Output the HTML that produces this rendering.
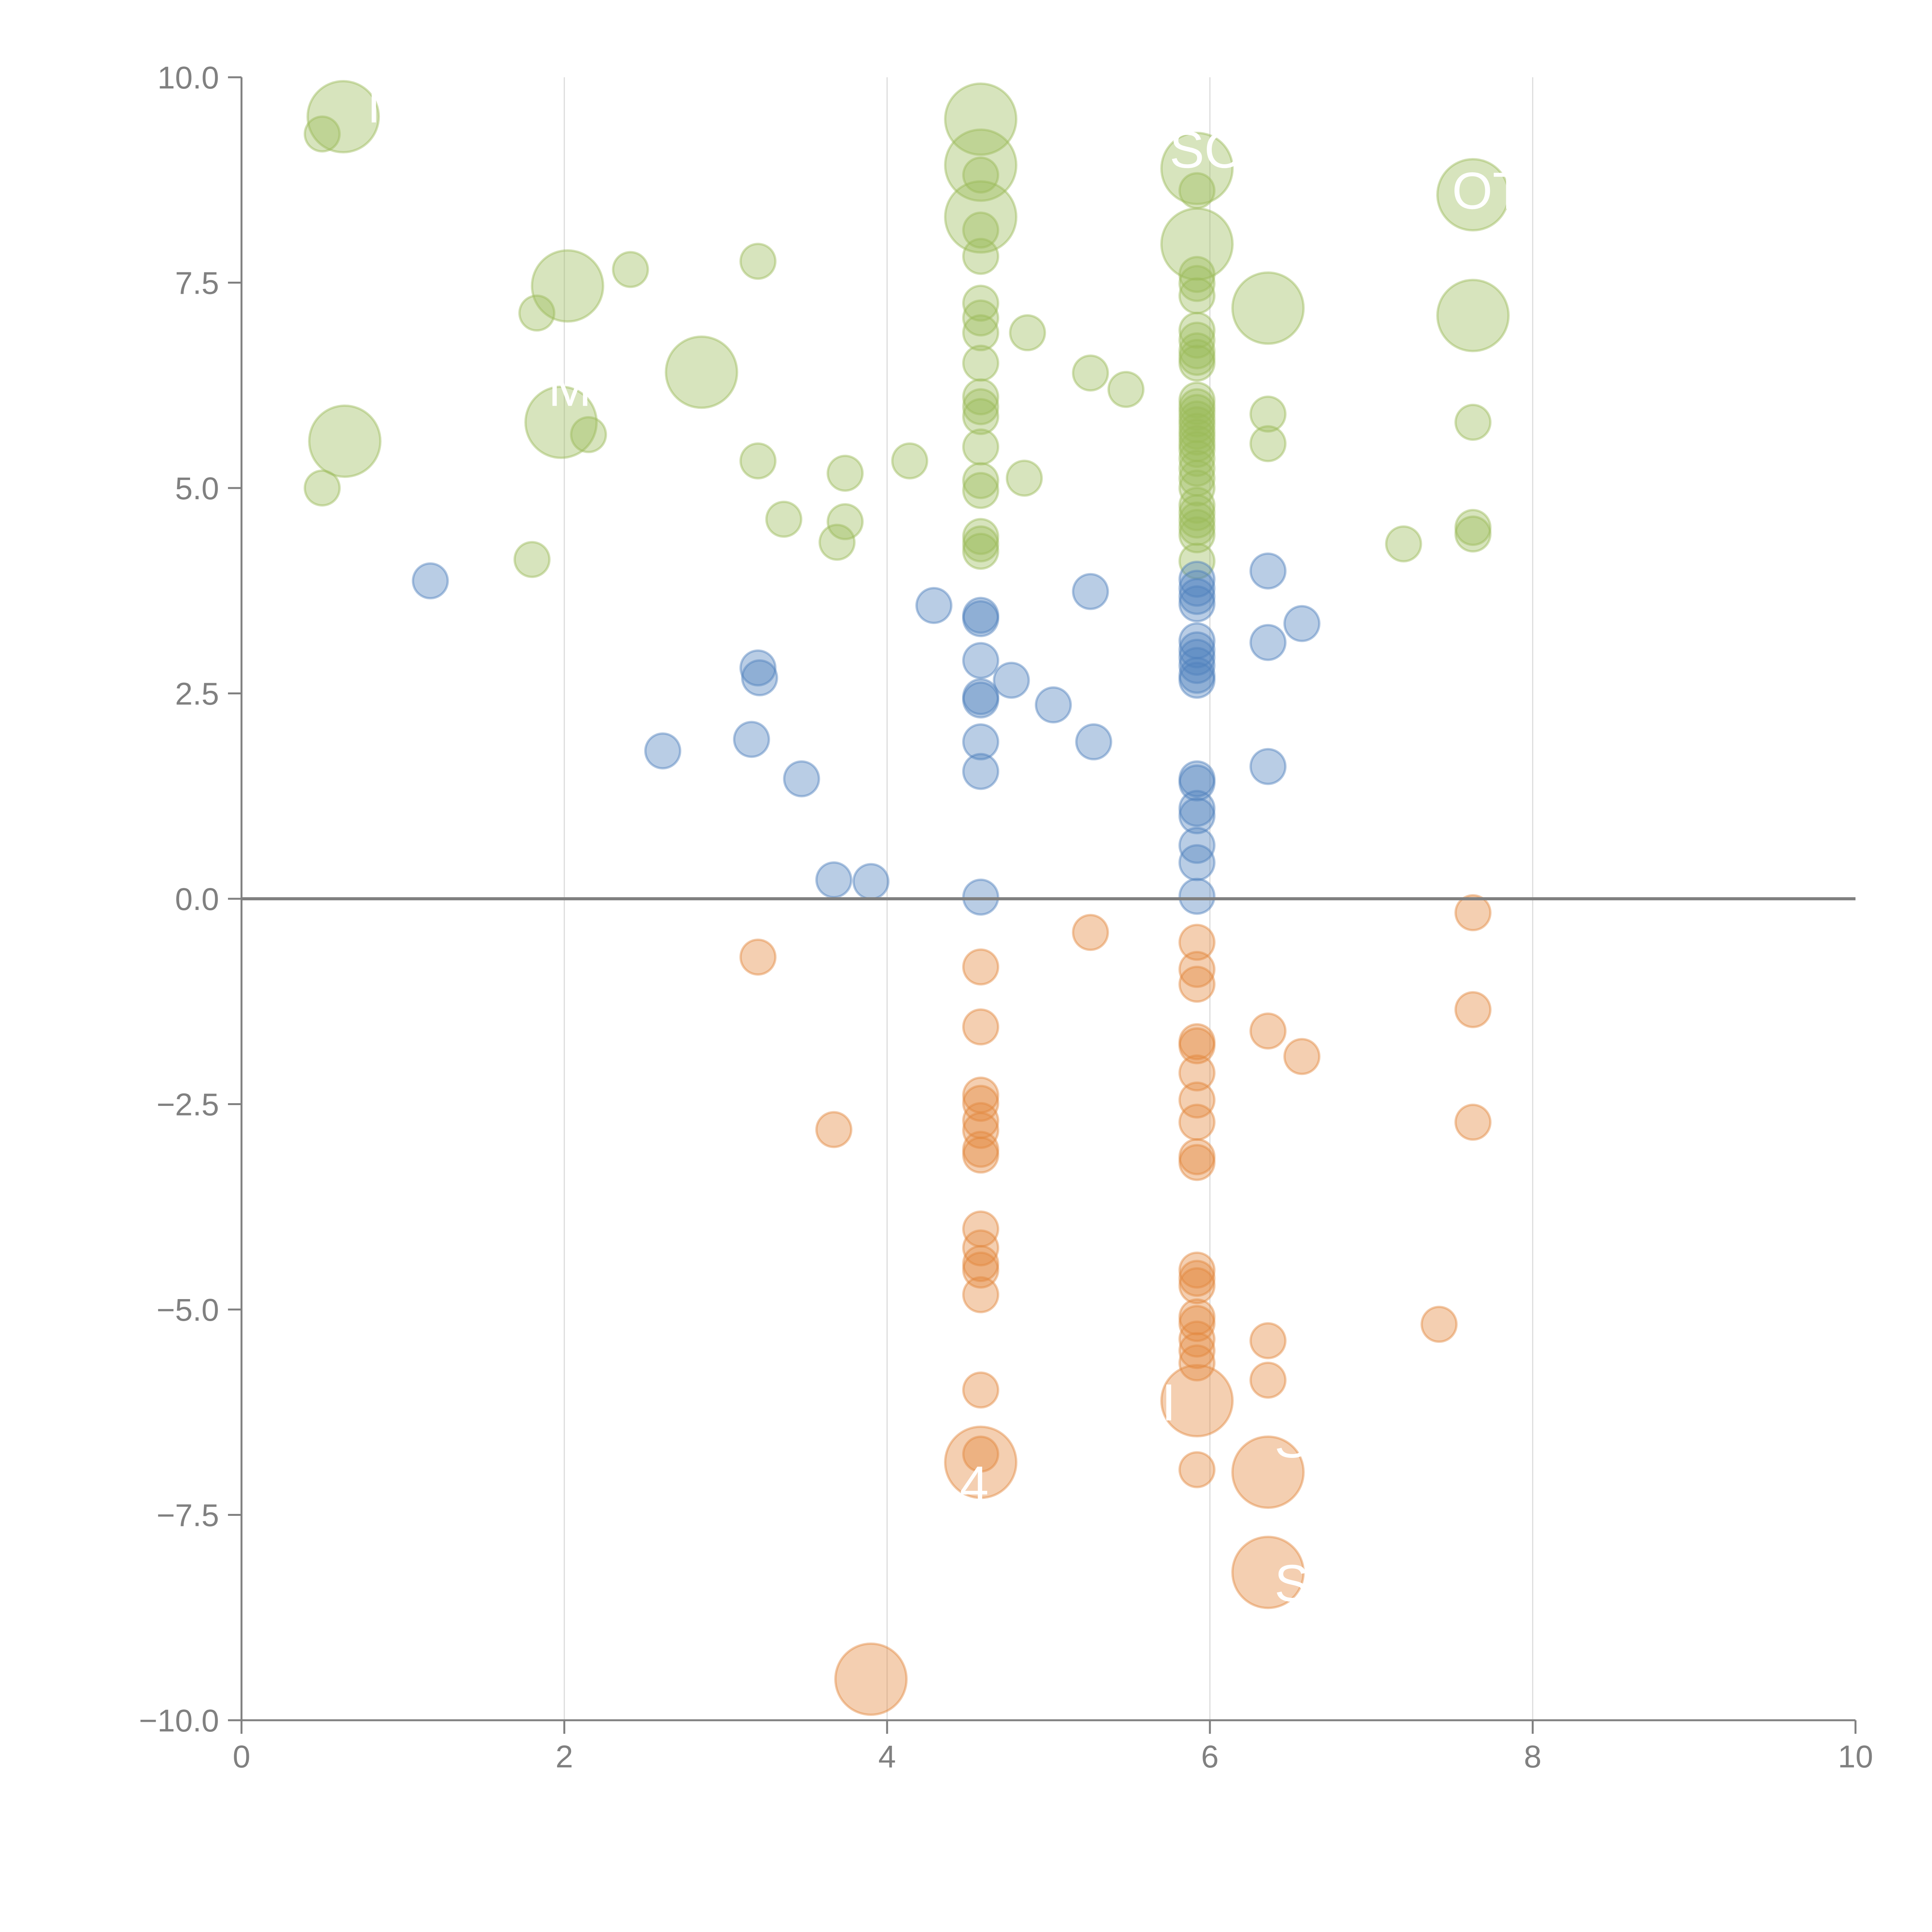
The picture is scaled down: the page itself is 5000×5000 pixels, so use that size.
<!DOCTYPE html>
<html><head><meta charset="utf-8"><style>html,body{margin:0;padding:0;background:#fff}svg{display:block}</style></head>
<body>
<svg id="chart" width="5000" height="5000" viewBox="0 0 5000 5000" xmlns="http://www.w3.org/2000/svg" font-family="Liberation Sans, sans-serif">
<g id="grid"></g>
<g id="marks"></g>
<g id="axes"></g>
</svg>
<script>
const xTicks=[0,2,4,6,8,10];
const yTicks=[-10,-7.5,-5,-2.5,0,2.5,5,7.5,10];
const yTickLabels=["\u221210.0","\u22127.5","\u22125.0","\u22122.5","0.0","2.5","5.0","7.5","10.0"];
const greenX=[0.50,0.50,1.80,1.83,2.41,2.15,3.20,3.20,3.36,3.69,3.74,3.74,4.14,4.87,4.85,5.26,5.48,6.36,6.36,7.20,7.63,7.63,7.63,
4.58,4.58,4.58,4.58,4.58,4.58,4.58,4.58,4.58,4.58,4.58,4.58,4.58,4.58,4.58,4.58,
5.92,5.92,5.92,5.92,5.92,5.92,5.92,5.92,5.92,5.92,5.92,5.92,5.92,5.92,5.92,5.92,5.92,5.92,5.92,5.92,5.92,5.92,5.92,5.92,5.92,5.92,5.92,5.92,
0.63,0.64,2.02,1.98,2.85,4.58,4.58,4.58,5.92,5.92,6.36,7.63,7.63];
const greenY=[9.31,5.0,4.13,7.13,7.66,5.65,7.76,5.33,4.62,4.34,5.18,4.59,5.33,6.89,5.12,6.40,6.20,5.90,5.54,4.32,5.80,4.52,4.44,
8.81,8.14,7.82,7.25,7.07,6.89,6.52,6.11,5.99,5.87,5.50,5.09,4.97,4.41,4.32,4.23,
8.62,7.60,7.49,7.34,6.92,6.80,6.67,6.59,6.52,6.07,5.99,5.92,5.84,5.77,5.69,5.62,5.54,5.47,5.36,5.24,5.12,5.00,4.79,4.70,4.61,4.52,4.43,4.11,
9.52,5.57,7.46,5.80,6.41,9.49,8.93,8.30,8.89,7.97,7.19,8.57,7.10];
const greenBig=13;
const blueX=[1.17,2.61,3.16,3.20,3.21,3.47,3.67,3.90,4.29,4.77,5.03,5.26,5.28,6.36,6.36,6.57,6.36,
4.58,4.58,4.58,4.58,4.58,4.58,4.58,4.58,
5.92,5.92,5.92,5.92,5.92,5.92,5.92,5.92,5.92,5.92,5.92,5.92,5.92,5.92,5.92,5.92,5.92];
const blueY=[3.87,1.80,1.94,2.81,2.69,1.46,0.23,0.21,3.57,2.66,2.36,3.74,1.91,3.99,3.12,3.35,1.61,
3.45,3.41,2.90,2.46,2.42,1.91,1.55,0.02,
3.89,3.78,3.68,3.59,3.14,3.03,2.94,2.84,2.72,2.66,1.46,1.41,1.10,1.01,0.65,0.44,0.03];
const orangeX=[3.20,3.67,5.26,6.36,6.57,6.36,6.36,7.42,7.63,7.63,7.63,
4.58,4.58,4.58,4.58,4.58,4.58,4.58,4.58,4.58,4.58,4.58,4.58,4.58,4.58,4.58,
5.92,5.92,5.92,5.92,5.92,5.92,5.92,5.92,5.92,5.92,5.92,5.92,5.92,5.92,5.92,5.92,5.92,5.92,5.92,
4.58,5.92,6.36,6.36,3.90];
const orangeY=[-0.71,-2.81,-0.41,-1.61,-1.92,-5.38,-5.86,-5.18,-0.17,-1.35,-2.72,
-0.83,-1.56,-2.39,-2.49,-2.70,-2.82,-3.05,-3.12,-4.02,-4.25,-4.44,-4.52,-4.82,-5.98,-6.76,
-0.53,-0.86,-1.04,-1.74,-1.79,-2.12,-2.45,-2.72,-3.14,-3.21,-4.52,-4.62,-4.71,-5.09,-5.17,-5.36,-5.50,-5.65,-6.95,
-6.86,-6.11,-6.98,-8.20,-9.50];
const orangeBig=5;
const labelText=["M","SO","OT","M","I","S","S","4"];
const labelX=[0.78,5.75,7.5,1.9,5.7,6.4,6.4,4.45];
const labelY=[9.45,8.9,8.4,6.0,-6.35,-6.8,-8.55,-7.35];

const NS="http://www.w3.org/2000/svg";
const X0=625,X1=4802,Y0=4452,Y1=200;
function sx(v){return X0+(v-0)/(10-0)*(X1-X0);}
function sy(v){return Y0-(v+10)/20*(Y0-Y1);}
function mk(tag,attrs,parent){const e=document.createElementNS(NS,tag);for(const k in attrs)e.setAttribute(k,attrs[k]);parent.appendChild(e);return e;}
const grid=document.getElementById('grid'),marks=document.getElementById('marks'),axes=document.getElementById('axes');
xTicks.forEach(t=>{if(t===0||t===10)return;
 const l=mk('line',{x1:sx(t),x2:sx(t),y1:Y1,y2:Y0,stroke:'#dcdcdc','stroke-width':3},grid);
 
 });
function drawSeries(xs,ys,bigCount,color,name){
 xs.forEach((x,i)=>{const big=i>=xs.length-bigCount;
  const c=mk('circle',{cx:sx(x),cy:sy(ys[i]),r:big?92:45,fill:color,'fill-opacity':0.4,stroke:color,'stroke-opacity':0.45,'stroke-width':6},marks);
  
  });
}
drawSeries(greenX,greenY,greenBig,'#9bbb59','green-bubble');
drawSeries(blueX,blueY,0,'#4f81bd','blue-bubble');
drawSeries(orangeX,orangeY,orangeBig,'#e3883d','orange-bubble');
labelText.forEach((s,i)=>{const t=mk('text',{x:sx(labelX[i]),y:sy(labelY[i]),fill:'#fff','font-size':135},marks);t.textContent=s;
 
 });
const z=mk('line',{x1:X0,x2:X1,y1:sy(0),y2:sy(0),stroke:'#808080','stroke-width':8},axes);


const ya=mk('line',{x1:X0,x2:X0,y1:Y1,y2:Y0,stroke:'#808080','stroke-width':5},axes);


const xa=mk('line',{x1:X0,x2:X1,y1:Y0,y2:Y0,stroke:'#808080','stroke-width':5},axes);


yTicks.forEach((t,i)=>{
 const l=mk('line',{x1:X0-35,x2:X0,y1:sy(t),y2:sy(t),stroke:'#808080','stroke-width':5},axes);
 
 
 const tx=mk('text',{x:X0-58,y:sy(t)+29,'text-anchor':'end',fill:'#808080','font-size':82},axes);tx.textContent=yTickLabels[i];
 
 });
xTicks.forEach(t=>{
 const l=mk('line',{x1:sx(t),x2:sx(t),y1:Y0,y2:Y0+35,stroke:'#808080','stroke-width':5},axes);
 
 
 const tx=mk('text',{x:sx(t),y:Y0+122,'text-anchor':'middle',fill:'#808080','font-size':82},axes);tx.textContent=String(t);
 
 });
</script>
</body></html>
